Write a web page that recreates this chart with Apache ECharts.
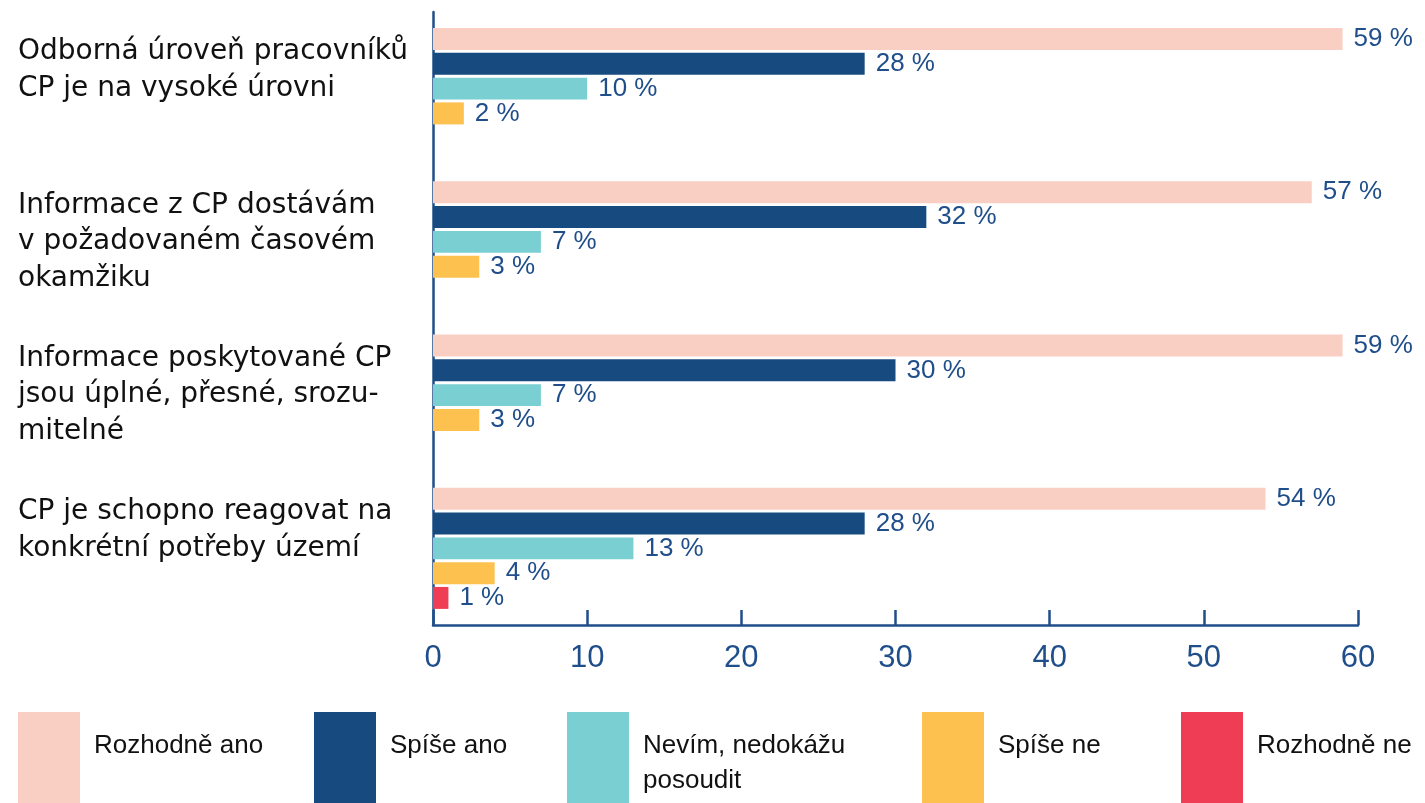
<!DOCTYPE html>
<html>
<head>
<meta charset="utf-8">
<title>Hodnocení CP</title>
<script src="https://cdn.jsdelivr.net/npm/echarts@6/dist/echarts.min.js"></script>
<style>
  html, body { margin: 0; padding: 0; background: #fff; }
  #chart { width: 1425px; height: 803px; }
</style>
</head>
<body>
<div id="chart"></div>
<script>
// kategorie (otázky) a hodnoty v %
const categories = [
  "Odborná úroveň pracovníků\nCP je na vysoké úrovni",
  "Informace z CP dostávám\nv požadovaném časovém\nokamžiku",
  "Informace poskytované CP\njsou úplné, přesné, srozu-\nmitelné",
  "CP je schopno reagovat na\nkonkrétní potřeby území",
];
const seriesNames = [
  "Rozhodně ano",
  "Spíše ano",
  "Nevím, nedokážu\nposoudit",
  "Spíše ne",
  "Rozhodně ne",
];
const rozhodneAno = [59, 57, 59, 54];
const spiseAno = [28, 32, 30, 28];
const nevim = [10, 7, 7, 13];
const spiseNe = [2, 3, 3, 4];
const rozhodneNe = [0, 0, 0, 1];
const xTicks = [0, 10, 20, 30, 40, 50, 60];

const seriesData = [rozhodneAno, spiseAno, nevim, spiseNe, rozhodneNe];
const colors = ["#facfc3", "#174a7e", "#7acfd2", "#fdc150", "#ef3d55"];
const blue = "#1f4e8a";

// legenda - kazda polozka zvlast (nestejne rozestupy jako v predloze)
const legendLeft = [18, 314, 567, 922, 1181];

const chart = echarts.init(document.getElementById("chart"));

const option = {
  animation: false,
  backgroundColor: "#fff",
  grid: { left: 433, right: 67, top: 12, bottom: 178, containLabel: false },
  legend: seriesNames.map((name, i) => ({
    data: [name],
    left: legendLeft[i],
    top: 712,
    padding: 0,
    icon: "rect",
    itemWidth: 62,
    itemHeight: 91,
    selectedMode: false,
    // text zarovnat k hornimu okraji: prazdny radek nahore + 2 radky
    formatter: (n) => {
      const lines = n.split("\n");
      while (lines.length < 2) lines.push(" ");
      return "{s| }\n" + lines.map((l) => "{t|" + l + "}").join("\n");
    },
    textStyle: {
      padding: [0, 0, 0, 9],
      rich: {
        s: { fontSize: 10, lineHeight: 12 },
        t: {
          fontFamily: "Liberation Sans, Arial",
          fontSize: 26,
          lineHeight: 35,
          color: "#111",
        },
      },
    },
  })),
  xAxis: {
    type: "value",
    min: xTicks[0],
    max: xTicks[xTicks.length - 1],
    interval: 10,
    axisLine: { show: true, lineStyle: { color: blue, width: 2.5 } },
    axisTick: { show: true, inside: true, length: 15, lineStyle: { color: blue, width: 2.5 } },
    splitLine: { show: false },
    axisLabel: {
      fontFamily: "Liberation Sans, Arial",
      fontSize: 31,
      color: blue,
      margin: 18,
    },
  },
  yAxis: {
    type: "category",
    inverse: true,
    data: categories,
    axisLine: { show: true, lineStyle: { color: blue, width: 2.5 } },
    axisTick: { show: false },
    axisLabel: {
      align: "left",
      margin: 415,
      fontFamily: "DejaVu Sans",
      fontSize: 28,
      lineHeight: 36.5,
      color: "#111",
      verticalAlign: "middle",
      padding: [0, 0, 6, 0],
      formatter: (v) => {
        const lines = v.split("\n");
        while (lines.length < 3) lines.push(" ");
        return lines.join("\n");
      },
    },
  },
  series: seriesNames.map((name, i) => ({
    name,
    type: "bar",
    data: seriesData[i],
    barCategoryGap: "21%",
    barGap: "12.8%",
    itemStyle: { color: colors[i] },
    label: {
      show: true,
      position: "right",
      distance: 11,
      fontFamily: "Liberation Sans, Arial",
      fontSize: 26,
      color: blue,
      formatter: (p) => (p.value ? p.value + " %" : ""),
    },
  })),
};

chart.setOption(option);
</script>
</body>
</html>
